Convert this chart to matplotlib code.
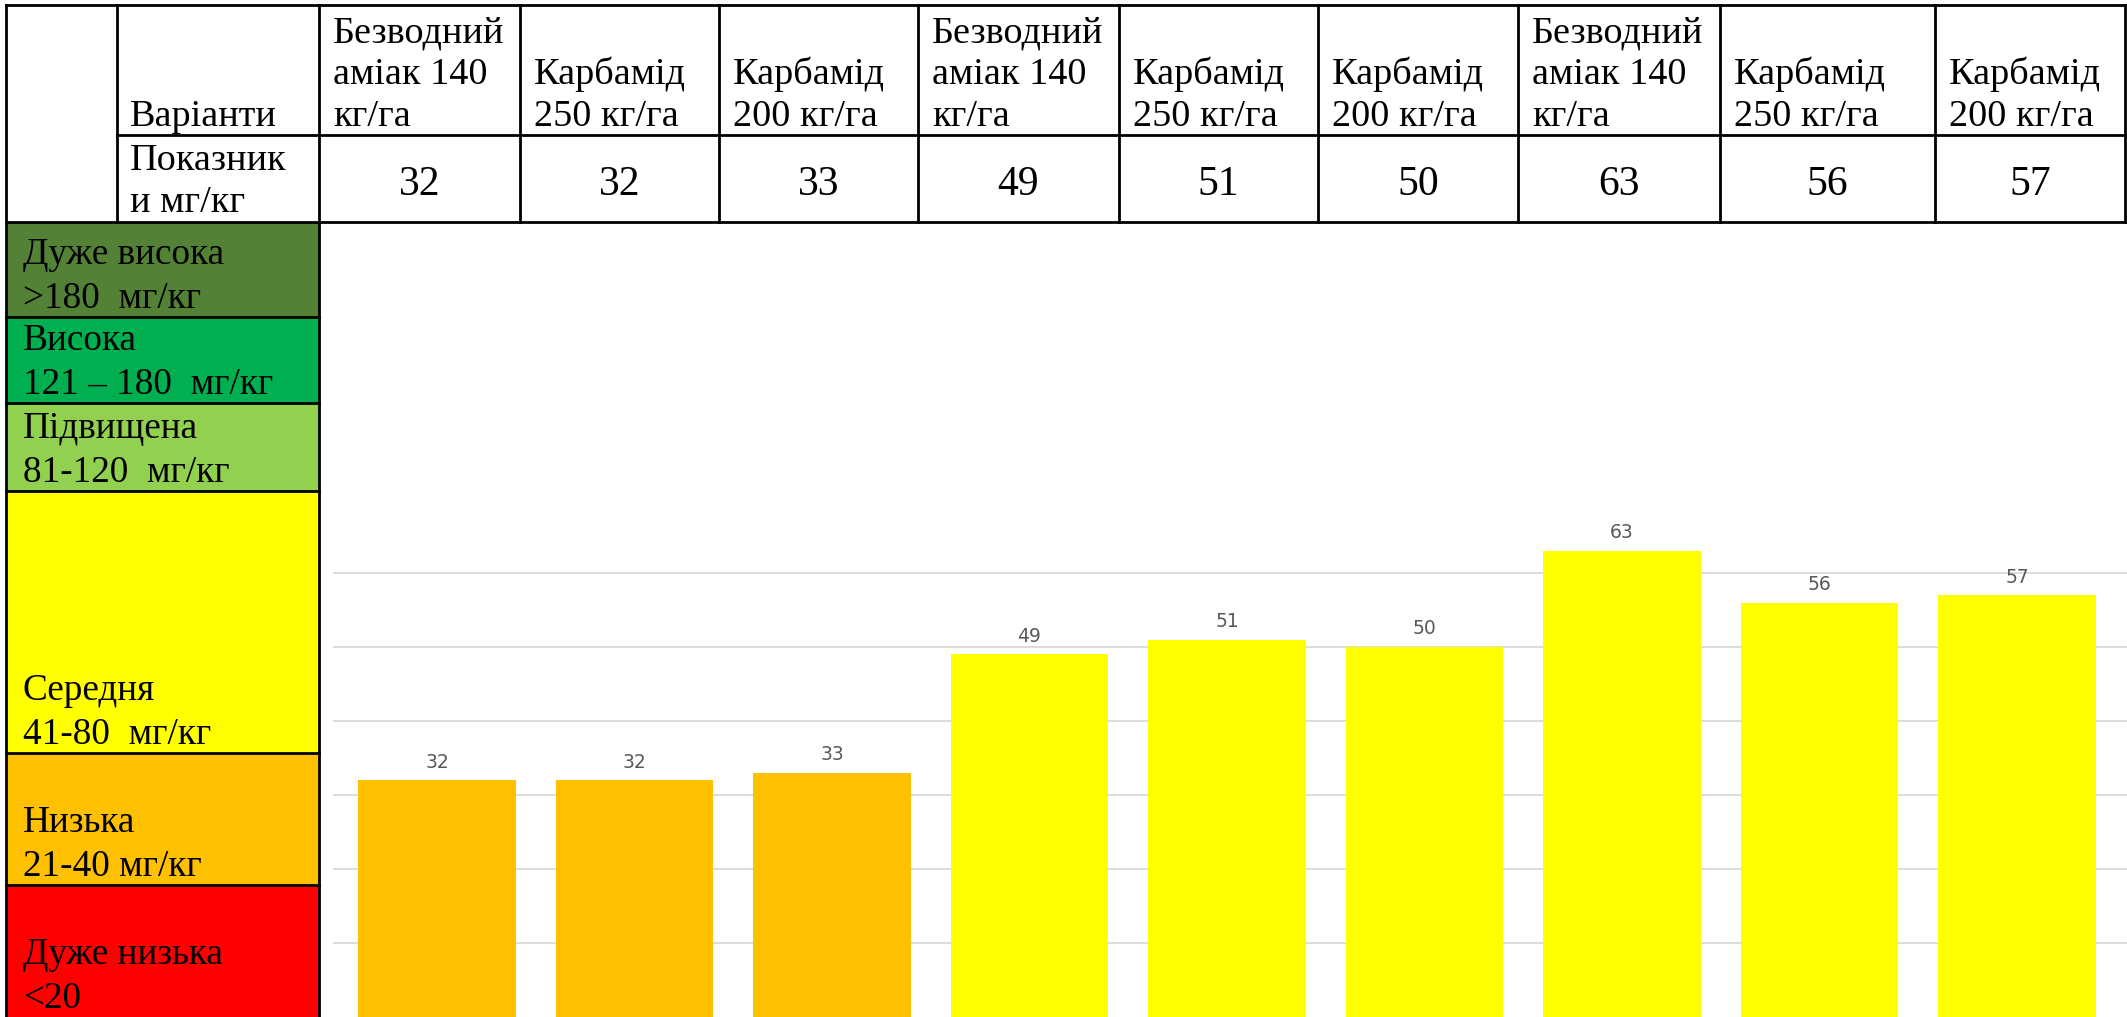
import matplotlib
matplotlib.use("Agg")
import matplotlib.pyplot as plt
from matplotlib.patches import Rectangle

# ---- data -------------------------------------------------------------
variants = [
    ["Безводний", "аміак 140", "кг/га"],
    ["Карбамід", "250 кг/га"],
    ["Карбамід", "200 кг/га"],
    ["Безводний", "аміак 140", "кг/га"],
    ["Карбамід", "250 кг/га"],
    ["Карбамід", "200 кг/га"],
    ["Безводний", "аміак 140", "кг/га"],
    ["Карбамід", "250 кг/га"],
    ["Карбамід", "200 кг/га"],
]
values = [32, 32, 33, 49, 51, 50, 63, 56, 57]

# supply classes: label lines, upper bound (mg/kg), fill colour
class_names = [
    ["Дуже висока", ">180  мг/кг"],
    ["Висока", "121 – 180  мг/кг"],
    ["Підвищена", "81-120  мг/кг"],
    ["Середня", "41-80  мг/кг"],
    ["Низька", "21-40 мг/кг"],
    ["Дуже низька", "<20"],
]
class_upper = [float("inf"), 180, 120, 80, 40, 20]
class_colors = ["#538135", "#00B050", "#92D050", "#FFFF00", "#FFC000", "#FF0000"]

gridline_values = [10, 20, 30, 40, 50, 60]

# ---- layout (pixels) --------------------------------------------------
W, H = 2127, 1017
col_lines = [319, 520, 719, 918, 1119, 1318, 1518, 1720, 1935, 2125]
table_left, first_col = 6, 117
top, row_split, head_bottom = 5, 135, 222
band_edges = [222, 317, 403, 491, 753, 885, 1017]
serif = "Liberation Serif"
fs_head = 27.5
fs_val = 30
fs_class = 26.8
line_step = 42

fig = plt.figure(figsize=(W / 100, H / 100), dpi=100)
fig.patch.set_facecolor("white")

# bar chart area
chart_left, chart_top = 333, 222
ax = fig.add_axes([chart_left / W, 0, (W - chart_left) / W, (H - chart_top) / H])
unit_px = 7.4
ax.set_ylim(0, (H - chart_top) / unit_px)
slot = 197.5
x0 = 437
ax.set_xlim((chart_left - x0) / slot, (W - x0) / slot)


def class_color(v):
    col = class_colors[0]
    for up, c in zip(class_upper, class_colors):
        if v <= up:
            col = c
    return col


bar_colors = [class_color(v) for v in values]
xs = list(range(len(values)))
ax.bar(xs, values, width=0.795, color=bar_colors, zorder=2)
for x, v in zip(xs, values):
    ax.annotate(str(v), (x, v), xytext=(0, 13), textcoords="offset points",
                ha="center", va="center", fontsize=13.5, color="#595959",
                family="DejaVu Sans", zorder=3)
for g in gridline_values:
    ax.axhline(g, color="#d9d9d9", lw=1.3, zorder=1)
ax.axis("off")
ax.patch.set_alpha(0)

# table + class legend drawn in pixel coordinates
tb = fig.add_axes([0, 0, 1, 1])
tb.set_xlim(0, W)
tb.set_ylim(H, 0)
tb.axis("off")
tb.patch.set_alpha(0)

for i, (names, col) in enumerate(zip(class_names, class_colors)):
    y_top, y_bot = band_edges[i], band_edges[i + 1]
    tb.add_patch(Rectangle((table_left, y_top), col_lines[0] - table_left,
                           y_bot - y_top, facecolor=col, edgecolor="none", zorder=1))
    for k, s in enumerate(reversed(names)):
        tb.text(23, y_bot - 9 - k * 44, s, family=serif, fontsize=fs_class,
                va="baseline", ha="left", color="black", zorder=3)

lw = 2.0
kw = dict(color="black", lw=lw, zorder=4, solid_capstyle="projecting")
tb.plot([table_left, col_lines[-1]], [top, top], **kw)
tb.plot([first_col, col_lines[-1]], [row_split, row_split], **kw)
tb.plot([table_left, col_lines[-1]], [head_bottom, head_bottom], **kw)
tb.plot([table_left, table_left], [top, H], **kw)
tb.plot([first_col, first_col], [top, head_bottom], **kw)
tb.plot([col_lines[0], col_lines[0]], [top, H], **kw)
for x in col_lines[1:]:
    tb.plot([x, x], [top, head_bottom], **kw)
for y in band_edges[1:-1]:
    tb.plot([table_left, col_lines[0]], [y, y], **kw)

# header texts
tb.text(first_col + 13, row_split - 9, "Варіанти", family=serif, fontsize=fs_head,
        va="baseline", ha="left")
tb.text(first_col + 13, head_bottom - 10 - line_step, "Показник", family=serif,
        fontsize=fs_head, va="baseline", ha="left")
tb.text(first_col + 13, head_bottom - 10, "и мг/кг", family=serif,
        fontsize=fs_head, va="baseline", ha="left")

for i, (lines, v) in enumerate(zip(variants, values)):
    left, right = col_lines[i], col_lines[i + 1]
    for k, s in enumerate(reversed(lines)):
        tb.text(left + 14, row_split - 9 - k * line_step, s, family=serif,
                fontsize=fs_head, va="baseline", ha="left")
    tb.text((left + right) / 2, 195, str(v), family=serif, fontsize=fs_val,
            va="baseline", ha="center")

fig.savefig("out.png", dpi=100, facecolor="white")
